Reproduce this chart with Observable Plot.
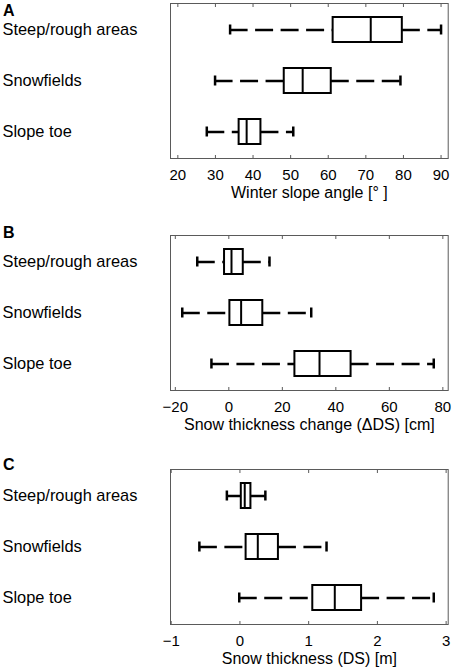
<!DOCTYPE html>
<html>
<head>
<meta charset="utf-8">
<script src="https://cdn.jsdelivr.net/npm/d3@7"></script>
<script src="https://cdn.jsdelivr.net/npm/@observablehq/plot@0.6"></script>
<style>
  html, body { margin: 0; padding: 0; background: #fff; }
  #root { position: relative; width: 454px; height: 672px; overflow: hidden; font-family: "Liberation Sans", Arial, sans-serif; }
  .panel { position: absolute; left: 0; }
  .letter { position: absolute; left: 3px; font-weight: bold; font-size: 16px; line-height: 16px; color: #000; }
</style>
</head>
<body>
<div id="root"></div>
<script>
const categories = ["Steep/rough areas", "Snowfields", "Slope toe"];

// Panel A: winter slope angle [°]
const angleLo  = [33.9, 29.9, 27.7];
const angleQ1  = [61.3, 48.3, 36.3];
const angleMed = [71.3, 53.2, 38.3];
const angleQ3  = [79.7, 60.8, 42.1];
const angleHi  = [90.0, 79.2, 50.7];
const angleTicks = [20, 30, 40, 50, 60, 70, 80, 90];

// Panel B: snow thickness change (ΔDS) [cm]
const changeLo  = [-11.8, -17.4, -6.5];
const changeQ1  = [-1.6, 0.4, 24.7];
const changeMed = [1.0, 4.6, 33.9];
const changeQ3  = [5.4, 12.7, 45.7];
const changeHi  = [15.2, 30.8, 76.6];
const changeTicks = [-20, 0, 20, 40, 60, 80];

// Panel C: snow thickness (DS) [m]
const depthLo  = [-0.19, -0.59, -0.01];
const depthQ1  = [0.02, 0.09, 1.06];
const depthMed = [0.07, 0.26, 1.38];
const depthQ3  = [0.16, 0.56, 1.77];
const depthHi  = [0.37, 1.26, 2.82];
const depthTicks = [-1, 0, 1, 2, 3];

const panels = [
  {letter: "A", top: 0, letterTop: 3, lo: angleLo, q1: angleQ1, med: angleMed, q3: angleQ3, hi: angleHi,
   ticks: angleTicks, domain: [18.05, 91.9], label: "Winter slope angle [° ]"},
  {letter: "B", top: 232, letterTop: 225, lo: changeLo, q1: changeQ1, med: changeMed, q3: changeQ3, hi: changeHi,
   ticks: changeTicks, domain: [-21.8, 82.0], label: "Snow thickness change (\u0394DS) [cm]"},
  {letter: "C", top: 465.5, letterTop: 457, lo: depthLo, q1: depthQ1, med: depthMed, q3: depthQ3, hi: depthHi,
   ticks: depthTicks, domain: [-1.01, 3.03], label: "Snow thickness (DS) [m]"}
];

const root = document.getElementById("root");
const fmt = d3.format("d");
const frameColor = "#5a5a5a";

for (const p of panels) {
  const rows = categories.map((c, i) => ({cat: c, lo: p.lo[i], q1: p.q1[i], med: p.med[i], q3: p.q3[i], hi: p.hi[i]}));
  const chart = Plot.plot({
    width: 454,
    height: 3 + 155 + 50,
    marginTop: 3,
    marginBottom: 50,
    marginLeft: 170,
    marginRight: 6.3,
    style: {fontFamily: "'Liberation Sans', Arial, sans-serif", fontSize: "15px", color: "#000", background: "#fff", overflow: "visible"},
    x: {domain: p.domain},
    y: {domain: categories, paddingInner: 0.516, paddingOuter: 0.258, axis: null},
    marks: [
      Plot.frame({stroke: frameColor, strokeWidth: 1}),
      Plot.axisX({anchor: "bottom", ticks: p.ticks, tickSize: -3, tickPadding: 13.5, stroke: frameColor,
        tickFormat: fmt, label: null, fontSize: 15, fill: "#000"}),
      Plot.axisX({anchor: "top", ticks: p.ticks, tickSize: -3, tickFormat: () => "", label: null, stroke: frameColor}),
      // whiskers (dashed)
      Plot.ruleY(rows, {y: "cat", x1: "lo", x2: "q1", stroke: "#000", strokeWidth: 2.5, strokeDasharray: "18,7.5"}),
      Plot.ruleY(rows, {y: "cat", x1: "q3", x2: "hi", stroke: "#000", strokeWidth: 2.5, strokeDasharray: "18,7.5"}),
      // whisker caps
      Plot.tickX(rows, {y: "cat", x: "lo", stroke: "#000", strokeWidth: 2.5, insetTop: 7.5, insetBottom: 7.5}),
      Plot.tickX(rows, {y: "cat", x: "hi", stroke: "#000", strokeWidth: 2.5, insetTop: 7.5, insetBottom: 7.5}),
      // boxes
      Plot.barX(rows, {y: "cat", x1: "q1", x2: "q3", fill: "#fff", stroke: "#000", strokeWidth: 2}),
      // medians
      Plot.tickX(rows, {y: "cat", x: "med", stroke: "#000", strokeWidth: 2}),
      // category labels
      Plot.text(rows, {y: "cat", text: "cat", frameAnchor: "left", textAnchor: "start", dx: -168, fontSize: 16.4, fill: "#000"}),
      // axis title
      Plot.text([p.label], {text: d => d, frameAnchor: "bottom", dy: 39, fontSize: 16, fill: "#000"})
    ]
  });
  const wrap = document.createElement("div");
  wrap.className = "panel";
  wrap.style.top = p.top + "px";
  wrap.appendChild(chart);
  root.appendChild(wrap);
  const letter = document.createElement("div");
  letter.className = "letter";
  letter.style.top = p.letterTop + "px";
  letter.textContent = p.letter;
  root.appendChild(letter);
}
</script>
</body>
</html>
